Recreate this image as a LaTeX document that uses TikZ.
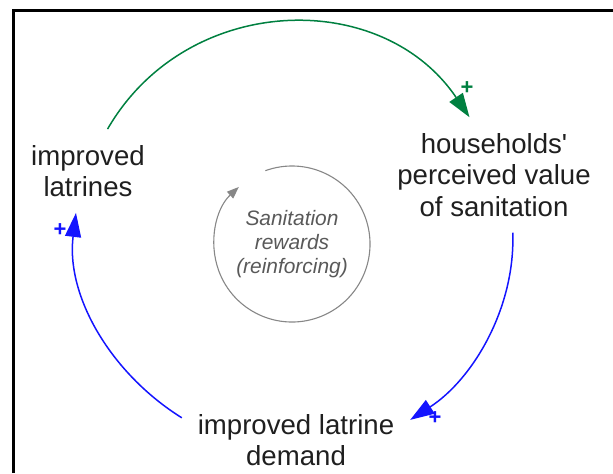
\documentclass[tikz,border=0pt]{standalone}
\usepackage{fontspec}
\setmainfont{Liberation Sans}
\usetikzlibrary{arrows.meta}
\definecolor{linkgreen}{RGB}{0,128,64}
\definecolor{linkblue}{RGB}{20,20,255}
\definecolor{loopgray}{RGB}{135,135,135}
\tikzset{var/.style={align=center, inner sep=0pt, outer sep=8pt, text=black!88,
  font=\fontsize{13.8}{15.8}\selectfont}}
\tikzset{looplabel/.style={align=center, inner sep=0pt, text=black!65,
  font=\fontsize{10.45}{11.8}\selectfont\itshape}}
\tikzset{link/.style={line width=0.75pt, -{Triangle[length=12pt,width=8pt]}}}
\tikzset{sign/.style={inner sep=0pt, font=\fontsize{11}{11}\selectfont\bfseries}}

\begin{document}
\begin{tikzpicture}[x=0.5pt, y=0.5pt]
\useasboundingbox (0,0) rectangle (613,473);

% frame
\draw[line width=1.5pt] (13.5,0) -- (13.5,462.5) -- (613,462.5);

% variables
\node[var] (lat) at (88,302) {improved\\latrines};
\node[var] (hh) at (494,298) {households\textquotesingle\\perceived value\\of sanitation};
\node[var] (dem) at (296,33) {improved latrine\\demand};

% loop
\node[looplabel] (loop) at (292,229) {Sanitation\\rewards\\(reinforcing)};
\draw[loopgray, line width=0.55pt, -{Triangle[length=6pt,width=4.5pt]}]
  ([shift={(110:78)}]loop.center) arc[start angle=110, end angle=-227, radius=78];

% links
\draw[link, linkgreen] (lat.65) to[out=60, in=124, looseness=1.11] (hh.113);
\draw[link, linkblue] (hh.-72) to[out=-88, in=33, looseness=0.9] (dem.10);
\draw[link, linkblue] (dem.169) to[out=148, in=-97, looseness=0.93] (lat.-106);

\node[sign, text=linkgreen] (gplus) at (467,385) {+};
\node[sign, text=linkblue] (rplus) at (435,55) {+};
\node[sign, text=linkblue] (lplus) at (60,243) {+};

\end{tikzpicture}
\end{document}
